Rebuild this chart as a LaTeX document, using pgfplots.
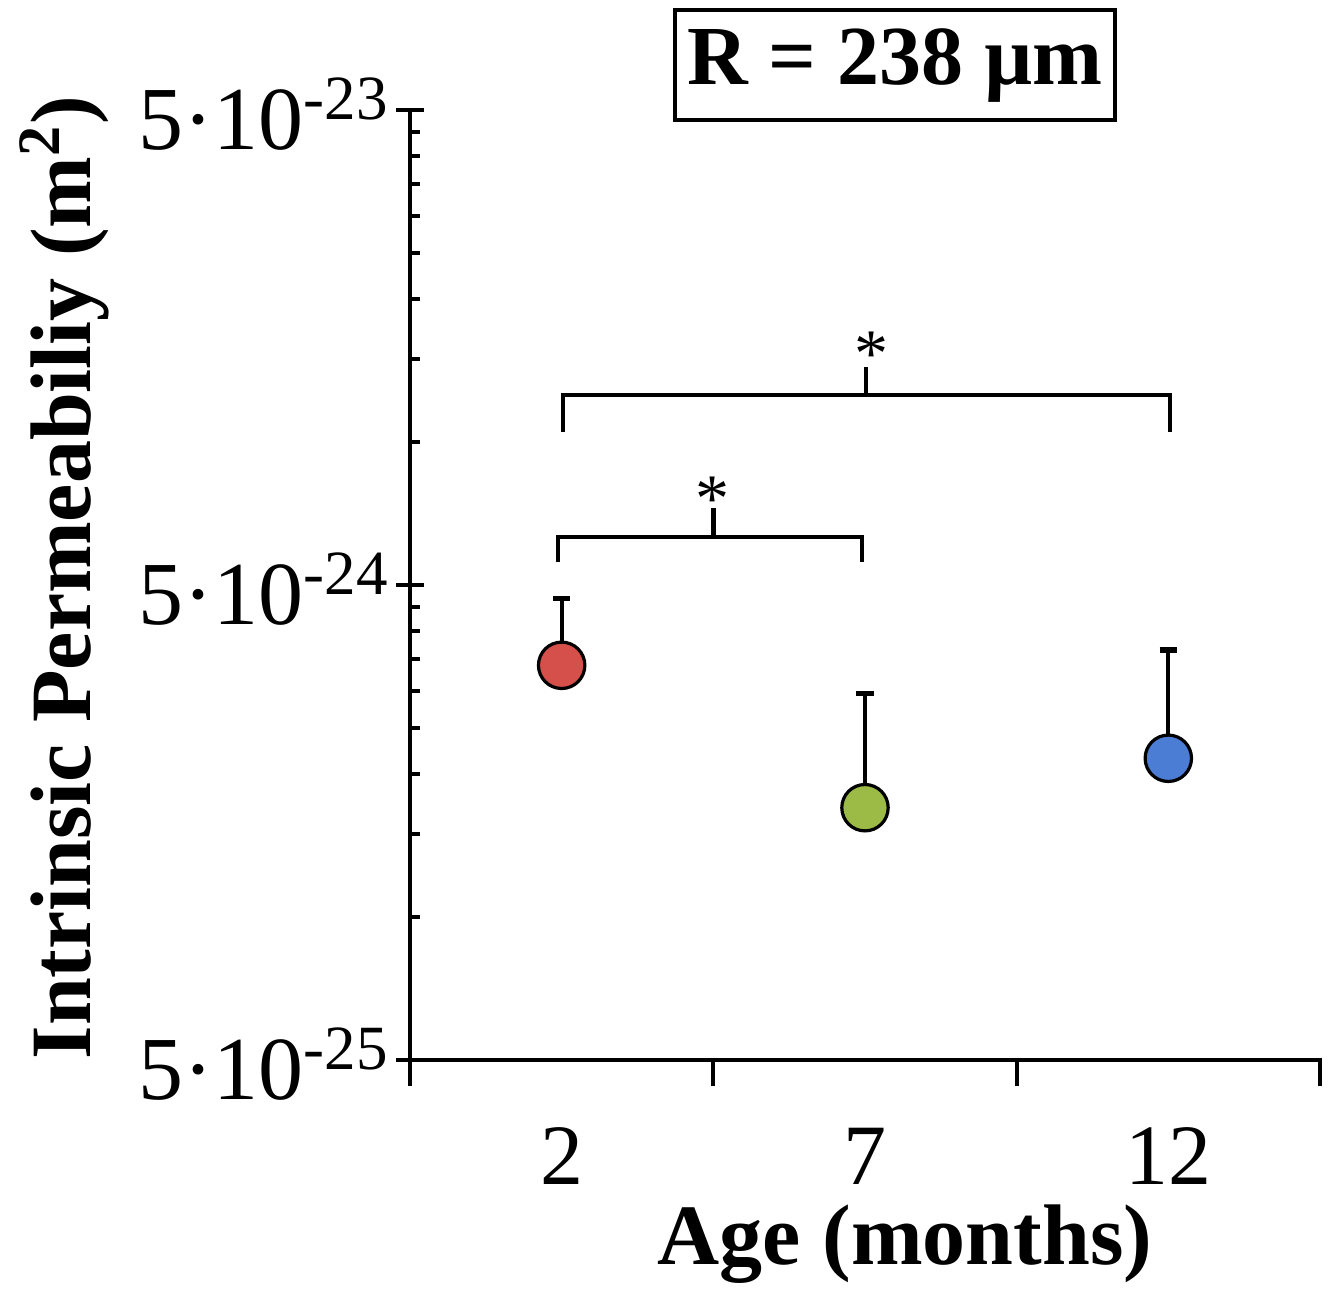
\documentclass[border=0pt]{standalone}
\usepackage{fontspec}
\setmainfont{Liberation Serif}
\usepackage{pgfplots}
\pgfplotsset{compat=1.18}
\definecolor{ptred}{HTML}{D5504A}
\definecolor{ptgreen}{HTML}{9BBB46}
\definecolor{ptblue}{HTML}{4B7DD5}
\newcommand{\bigfont}{\fontsize{21.5}{25}\selectfont}

\begin{document}
\begin{tikzpicture}
\path[use as bounding box] (-102.5pt,-61.75pt) rectangle (230.5pt,265pt);
\begin{axis}[
    scale only axis,
    width=227.5pt,
    height=237.5pt,
    ymode=log,
    xmin=0, xmax=3,
    ymin=5e-25, ymax=5e-23,
    axis lines*=left,
    axis line style={line width=1pt},
    xtick={0,1,2,3},
    xticklabels={},
    extra x ticks={0.5,1.5,2.5},
    extra x tick labels={2,7,12},
    extra x tick style={major tick length=0pt,
        tick label style={anchor=center, yshift=-24pt}},
    ytick={5e-25,5e-24,5e-23},
    yticklabels={5·10\textsuperscript{-25},5·10\textsuperscript{-24},5·10\textsuperscript{-23}},
    minor ytick={1e-24,1.5e-24,2e-24,2.5e-24,3e-24,3.5e-24,4e-24,4.5e-24,
                 1e-23,1.5e-23,2e-23,2.5e-23,3e-23,3.5e-23,4e-23,4.5e-23},
    tick align=inside,
    major tick length=7pt,
    minor tick length=2.5pt,
    tick style={line width=1pt, black},
    major x tick style={yshift=-6.5pt},
    major y tick style={xshift=-3.5pt},
    tick label style={font=\bigfont},
    yticklabel style={font=\fontsize{22.5}{26}\selectfont, xshift=-1.5pt, yshift=-1pt},
    xlabel={Age (months)},
    xlabel style={at={(axis description cs:0.544,-0.1937)}, anchor=center, font=\bigfont\bfseries},
    ylabel={Intrinsic Permeabiliy (m\textsuperscript{2})},
    ylabel style={at={(axis description cs:-0.3516,0.508)}, anchor=base, font=\bigfont\bfseries},
    clip=false,
]

% one-sided error bars (upper SD)
\addplot[draw=none, no marks,
    error bars/.cd, y dir=plus, y explicit,
    error mark=|,
    error bar style={line width=1pt, black},
    error mark options={line width=1.3pt, mark size=2.2pt, black}]
    coordinates {
    (0.5,3.39e-24) += (0,1.30e-24)
    (1.5,1.70e-24) += (0,1.26e-24)
    (2.5,2.16e-24) += (0,1.49e-24)
};

\addplot[only marks, mark=*, mark size=5.8pt, mark options={fill=ptred, draw=black, line width=0.8pt}]
    coordinates {(0.5,3.39e-24)};
\addplot[only marks, mark=*, mark size=5.8pt, mark options={fill=ptgreen, draw=black, line width=0.8pt}]
    coordinates {(1.5,1.70e-24)};
\addplot[only marks, mark=*, mark size=5.8pt, mark options={fill=ptblue, draw=black, line width=0.8pt}]
    coordinates {(2.5,2.16e-24)};

% significance brackets
\draw[line width=1.1pt] (axis cs:0.505,1.05e-23) -- (axis cs:0.505,1.256e-23)
    -- (axis cs:2.506,1.256e-23) -- (axis cs:2.506,1.05e-23);
\draw[line width=1.1pt] (axis cs:1.503,1.256e-23) -- (axis cs:1.503,1.44e-23);
\node[font=\fontsize{17}{20}\selectfont] at (axis cs:1.523,1.53e-23) {*};

\draw[line width=1.1pt] (axis cs:0.488,5.58e-24) -- (axis cs:0.488,6.31e-24)
    -- (axis cs:1.49,6.31e-24) -- (axis cs:1.49,5.58e-24);
\draw[line width=1.1pt] (axis cs:1.0,6.31e-24) -- (axis cs:1.0,7.26e-24);
\node[font=\fontsize{17}{20}\selectfont] at (axis cs:0.996,7.59e-24) {*};

\node[draw, line width=1pt, font=\fontsize{21}{25}\selectfont\bfseries, minimum width=110pt,
    minimum height=27.5pt, inner sep=0pt, yshift=11.25pt]
    at (rel axis cs:0.533,1) {R = 238 µm};
\end{axis}
\end{tikzpicture}
\end{document}
